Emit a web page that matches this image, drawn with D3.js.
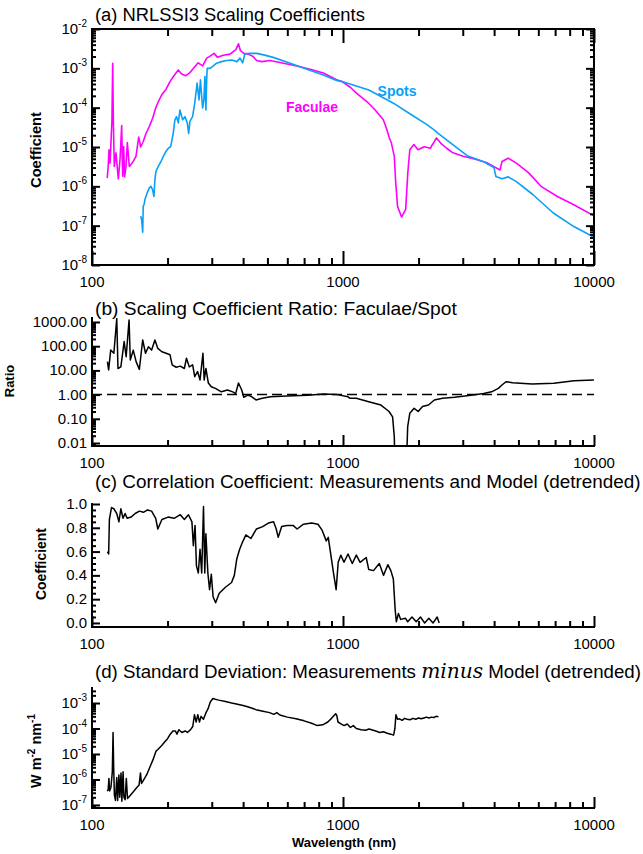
<!DOCTYPE html>
<html>
<head>
<meta charset="utf-8">
<script src="https://cdn.jsdelivr.net/npm/d3@7"></script>
<style>
  body { margin: 0; background: #fff; }
  svg { display: block; font-family: "Liberation Sans", Arial, sans-serif; }
</style>
</head>
<body>
<svg id="fig" width="643" height="854"></svg>
<script>
// ---------------- data ----------------
// wavelength axis (nm)
const waveTickLabels = [100, 1000, 10000];

// (a) scaling coefficients
const facWave = [
  115,116,116.9,118,120.1,120.9,121.6,122.7,124.6,127.3,
  129.3,131.3,132.5,133.7,134.9,136.6,138.3,140.8,145.3,149.7,
  153.5,156.3,160,164.1,169.1,174.4,179.8,183.7,189.4,197.3,
  204.5,212,220.7,227.5,236.6,245.6,256.8,264.7,275.9,286.4,
  295.4,306.5,316.3,333.4,354.4,374.3,383.4,390.3,402.4,418.6,
  438.8,452.7,474.6,512.2,579,654.7,740,835,943,992,
  1069,1131,1248,1343,1448,1496,1530,1559,1601,1619,
  1649,1712,1777,1812,1846,1916,1990,2107,2227,2358,
  2448,2589,2740,3010,3370,3772,4222,4301,4552,4907,
  5493,6149,7148,8309,10000
];
const facCoef = [
  1.62e-6,3.2e-6,8.5e-6,3.9e-6,4.9e-5,1.35e-3,4.9e-5,3.2e-6,7.1e-6,1.55e-6,
  4.8e-6,3.5e-5,1.8e-6,1.02e-5,1.74e-6,3.2e-6,1.29e-5,3.2e-6,4.1e-6,5.8e-6,
  1.78e-5,1.0e-5,1.38e-5,2.2e-5,3.3e-5,5.4e-5,1.02e-4,1.41e-4,2.1e-4,2.95e-4,
  4.6e-4,6.5e-4,9.1e-4,7.2e-4,6.5e-4,7.8e-4,1.1e-3,1.38e-3,1.15e-3,1.82e-3,
  2.04e-3,2.4e-3,1.9e-3,2.14e-3,2.3e-3,3.0e-3,4.2e-3,2.8e-3,2.4e-3,2.3e-3,
  2.0e-3,1.58e-3,1.48e-3,1.58e-3,1.35e-3,1.15e-3,9.5e-4,7.6e-4,5.1e-4,4.6e-4,
  3.3e-4,2.35e-4,1.41e-4,8.7e-5,4.9e-5,2.75e-5,1.7e-5,1.26e-5,5.8e-6,1.48e-6,
  3.1e-7,1.66e-7,2.6e-7,2.2e-6,8.5e-6,1.15e-5,8.5e-6,1.02e-5,9.3e-6,1.7e-5,
  1.26e-5,9.3e-6,7.1e-6,5.8e-6,4.9e-6,3.9e-6,2.6e-6,4.3e-6,5.2e-6,3.9e-6,
  2.2e-6,1.0e-6,5.5e-7,3.4e-7,1.78e-7
];
const spotWave = [
  156.3,157.7,159.2,160,161.5,162.5,165.9,169.1,171.8,174.4,
  176.5,178.1,179.8,183.7,187.7,192.4,197.3,201.4,205.8,210.6,
  213.9,217.2,220.7,224.1,229.7,234.6,239.7,242.7,245.6,251.6,
  256.8,262.3,267,270.4,275.8,279.1,281.7,284.4,286.4,287.7,
  295.4,304.2,313.7,328.3,344.1,360.6,378,388.8,398.2,406.7,
  424.6,452.7,482.7,527,616,718,835,943,992,1268,
  1588,1846,2145,2313,2401,2689,3124,3634,3993,4067,
  4301,4552,4907,5704,6884,8309,10000
];
const spotCoef = [
  1.74e-7,1.41e-7,6.8e-8,3.1e-7,3.6e-7,4.6e-7,6.8e-7,9.1e-7,1.0e-6,8.1e-7,
  5.5e-7,1.48e-6,2.4e-6,3.2e-6,4.1e-6,5.8e-6,7.8e-6,9.3e-6,1.02e-5,2.2e-5,
  4.9e-5,5.9e-5,4.1e-5,8.7e-5,4.9e-5,5.9e-5,4.1e-5,2.2e-5,4.5e-5,5.9e-5,
  1.35e-4,4.2e-4,1.58e-4,5.1e-4,9.8e-5,1.58e-4,6.2e-4,8.7e-5,5.1e-4,1.0e-3,
  1.0e-3,1.15e-3,1.35e-3,1.48e-3,1.58e-3,1.62e-3,1.48e-3,1.82e-3,1.38e-3,2.34e-3,
  2.4e-3,2.4e-3,2.2e-3,1.9e-3,1.35e-3,9.5e-4,6.8e-4,4.9e-4,4.6e-4,2.8e-4,
  1.3e-4,7.0e-5,3.8e-5,2.7e-5,2.2e-5,1.26e-5,6.0e-6,4.2e-6,3.0e-6,1.78e-6,
  1.55e-6,1.74e-6,1.32e-6,6.2e-7,2.1e-7,9.5e-8,5.1e-8
];
const coefTicks = [1e-8, 1e-7, 1e-6, 1e-5, 1e-4, 1e-3, 1e-2];

// (b) faculae / spot ratio
const ratioWave = [
  115.2,116.5,118.7,122.2,125.5,126.9,130.3,134.3,136.8,140.5,
  142.1,146,149.9,154.4,159.2,163.4,167.8,172.8,178.1,182.9,
  189.9,197.3,204.6,208.6,216.5,224.8,233.3,237.9,244.1,251.8,
  256.6,263.4,269.4,276.7,279.9,284.3,290.8,298.8,310.1,327.6,
  346.4,363.7,373.5,383.4,394.9,402.5,417.9,433.5,450.2,476.4,
  513.6,597.8,721.8,837.5,938.2,1047,1068,1130,1266,1416,
  1526,1576,1601,1619,1776,1810,1846,1920,1993,2074,
  2191,2311,2493,2782,3238,3634,3908,4158,4300,4460,
  4740,5670,6920,8330,9990
];
const ratioVal = [
  23,10.5,69,51,1400,12,14,155,37,1200,
  27,69,23,11,180,51,95,69,180,81,
  59,51,44,17,13.5,15,12,32,14,17,
  5.5,9,4,51,4,12,3,2.1,1.8,1.3,
  1.55,1.3,1.1,3,1.55,0.78,0.95,0.81,0.6,0.7,
  0.81,0.87,0.95,1.05,1.02,0.81,0.7,0.7,0.51,0.37,
  0.2,0.12,0.018,0.0001,0.0001,0.047,0.17,0.27,0.2,0.32,
  0.37,0.6,0.7,0.78,0.95,1.1,1.3,1.8,2.5,3.4,
  3.1,2.75,2.95,3.7,4.0
];
const ratioTicks = [0.01, 0.1, 1, 10, 100, 1000];
const ratioTickLabels = ["0.01", "0.10", "1.00", "10.00", "100.00", "1000.00"];
const ratioReference = 1;

// (c) correlation coefficient
const corrWave = [
  115.2,116.5,117.3,119.6,122.2,125.5,128,130.3,132.9,135.5,
  138,143.1,148.6,154.4,160.3,166.4,172.8,179.4,182.9,189.9,
  200.9,212.4,224.8,233.3,242.2,250.1,253.4,257.4,260.7,265.2,
  269.4,273.6,278.1,281.4,284.3,289.5,294,298.8,303.7,310.8,
  321.3,340.2,359.8,369,377.6,387.5,397.8,410.3,429.8,452,
  478.7,504.3,528.9,542,552,569.7,597.7,632.4,656.6,696,
  750,794.5,825.6,857.6,873.6,890.6,913.5,938.9,957,980,
  1009,1047,1089,1130,1170,1237,1266,1323,1395,1450,
  1509,1551,1587,1614,1631,1663,1697,1772,1810,1883,
  1958,2035,2115,2198,2284,2373,2416
];
const corrVal = [
  0.60,0.58,0.87,0.97,0.96,0.92,0.85,0.96,0.88,0.92,
  0.88,0.89,0.92,0.94,0.93,0.95,0.94,0.88,0.79,0.87,
  0.89,0.88,0.91,0.87,0.91,0.85,0.65,0.82,0.48,0.42,
  0.62,0.42,0.98,0.42,0.75,0.42,0.28,0.41,0.22,0.17,
  0.25,0.30,0.34,0.40,0.54,0.62,0.68,0.74,0.71,0.79,
  0.81,0.84,0.85,0.79,0.72,0.81,0.82,0.82,0.79,0.83,
  0.84,0.83,0.78,0.69,0.72,0.60,0.44,0.28,0.51,0.57,
  0.51,0.58,0.50,0.57,0.51,0.55,0.45,0.44,0.50,0.40,
  0.49,0.44,0.37,0.11,0.01,0.08,0.03,0.04,0.01,0.05,
  0.01,0.05,0.00,0.04,0.00,0.05,0.00
];
const corrTicks = [0.0, 0.2, 0.4, 0.6, 0.8, 1.0];

// (d) standard deviation of measurements minus model
const sdWave = [
  115,116,116.8,117.5,119,120.5,121.3,122,122.8,124,
  125.5,126.5,128,129,130.5,131.5,133,134,135.5,137,
  138.5,140,145,150,154,156,157.5,160,165,170,
  175,180,183,190,195,200,205,210,215,218,
  222,228,235,240,247,252,256,260,264,268,
  272,278,284,290,296,303,310,320,340,360,
  380,400,420,450,480,510,530,545,560,600,
  650,700,750,790,830,870,900,935,945,955,
  985,1010,1040,1070,1100,1130,1180,1230,1270,1300,
  1350,1400,1450,1500,1550,1590,1610,1625,1650,1680,
  1720,1760,1800,1850,1900,1950,2000,2050,2100,2150,
  2200,2250,2300,2350,2400
];
const sdVal = [
  3.5e-7,4e-7,1.1e-6,3.5e-7,5e-7,2e-6,7e-5,3e-6,2.5e-7,1.5e-7,
  1.2e-6,1.5e-7,1.5e-6,2e-7,1.8e-6,1.4e-7,2e-6,2e-7,1.6e-7,1.1e-6,
  1.8e-7,2e-7,3e-7,4.5e-7,6e-7,1.8e-6,7e-7,9e-7,1.5e-6,3e-6,
  6e-6,1.3e-5,1.5e-5,2.2e-5,3e-5,4e-5,6e-5,8e-5,8e-5,6e-5,
  9e-5,7e-5,8e-5,7e-5,9e-5,1.2e-4,3.5e-4,1.8e-4,3.5e-4,1.8e-4,
  3e-4,2.3e-4,4e-4,6e-4,1.1e-3,1.5e-3,1.4e-3,1.3e-3,1.15e-3,1e-3,
  9e-4,8e-4,7e-4,5.5e-4,4.8e-4,4.2e-4,3.6e-4,4.2e-4,3.4e-4,2.8e-4,
  2.4e-4,2e-4,1.6e-4,1.3e-4,1.4e-4,1.8e-4,2.5e-4,3.8e-4,3.2e-4,1.8e-4,
  1.5e-4,1.3e-4,1.5e-4,1.1e-4,1.3e-4,1e-4,9e-5,8.5e-5,9.5e-5,9e-5,
  8e-5,7e-5,7.5e-5,6.5e-5,6e-5,5.5e-5,1e-4,3.5e-4,2.3e-4,2.4e-4,
  2.1e-4,2.5e-4,2.3e-4,2.2e-4,2.5e-4,2.3e-4,2.6e-4,2.4e-4,2.6e-4,2.8e-4,
  2.6e-4,2.8e-4,2.7e-4,3.0e-4,2.9e-4
];
const sdTicks = [1e-7, 1e-6, 1e-5, 1e-4, 1e-3];

// ---------------- drawing ----------------
const FAC_COLOR = "#ff00ff";
const SPOT_COLOR = "#0aa0f5";
const fig = d3.select("#fig");
const X_LEFT = 92, X_RIGHT = 594;
const x = d3.scaleLog().domain([100, 10000]).range([X_LEFT, X_RIGHT]);

// 1..9 x 10^n tick values inside a log domain
function logTickValues(lo, hi) {
  const out = [];
  for (let e = Math.floor(Math.log10(lo)); e <= Math.ceil(Math.log10(hi)); e++) {
    for (let k = 1; k <= 9; k++) {
      const v = k * Math.pow(10, e);
      if (v >= lo * 0.9999 && v <= hi * 1.0001) out.push({ v, major: k === 1 });
    }
  }
  return out;
}
const xTicks = logTickValues(100, 10000);
const xMajor = xTicks.filter(t => t.major).map(t => t.v);
const xMinor = xTicks.filter(t => !t.major).map(t => t.v);

function styleTicks(sel) {
  sel.select(".domain").remove();
  sel.selectAll("line").attr("stroke", "#000").attr("stroke-width", 2);
}

function fitWidth(sel, target) {
  const len = sel.node().getComputedTextLength();
  const fs = parseFloat(sel.attr("font-size"));
  sel.attr("font-size", (fs * target / len).toFixed(2));
}

function addTitle(g, tx, ty, parts, width) {
  const t = g.append("text").attr("x", tx).attr("y", ty).attr("font-size", 16).attr("fill", "#000");
  parts.forEach(p => {
    const s = t.append("tspan").text(p.text);
    if (p.math) s.attr("font-family", "'DejaVu Serif', serif").attr("font-style", "italic").attr("font-size", "1.08em");
  });
  fitWidth(t, width);
  return t;
}

function addYTitle(g, cx, cy, build, width) {
  const t = g.append("text")
    .attr("transform", `translate(${cx},${cy}) rotate(-90)`)
    .attr("text-anchor", "middle")
    .attr("font-size", 13).attr("font-weight", "bold").attr("fill", "#000");
  build(t);
  if (width) fitWidth(t, width);
  return t;
}

function expLabel(g, xpos, ypos, v) {
  const e = Math.round(Math.log10(v));
  const t = g.append("text").attr("x", xpos).attr("y", ypos).attr("text-anchor", "end")
    .attr("font-size", 15).attr("fill", "#000");
  t.append("tspan").text("10");
  t.append("tspan").attr("font-size", 10).attr("dy", -7).text(String(e));
}

function drawPanel(p) {
  const g = fig.append("g");
  const clipId = "clip-" + p.name;
  fig.append("clipPath").attr("id", clipId).append("rect")
    .attr("x", X_LEFT).attr("y", p.top).attr("width", X_RIGHT - X_LEFT).attr("height", p.bottom - p.top);

  // data lines
  const plot = g.append("g").attr("clip-path", `url(#${clipId})`);
  if (p.refLine !== undefined) {
    plot.append("line")
      .attr("x1", X_LEFT).attr("x2", X_RIGHT)
      .attr("y1", p.y(p.refLine)).attr("y2", p.y(p.refLine))
      .attr("stroke", "#000").attr("stroke-width", 1.5).attr("stroke-dasharray", "10,5");
  }
  p.series.forEach(s => {
    const line = d3.line().x(d => x(d[0])).y(d => p.y(d[1]));
    plot.append("path").datum(d3.zip(s.wave, s.val))
      .attr("d", line).attr("fill", "none")
      .attr("stroke", s.color).attr("stroke-width", s.width || 1.5)
      .attr("stroke-linejoin", "round");
  });

  // x ticks (bottom, and top when boxed)
  const bigX = p.boxed ? 14 : 11, smallX = p.boxed ? 7 : 6;
  g.append("g").attr("transform", `translate(0,${p.bottom})`)
    .call(d3.axisTop(x).tickValues(xMinor).tickSize(smallX).tickFormat("")).call(styleTicks);
  g.append("g").attr("transform", `translate(0,${p.bottom})`)
    .call(d3.axisTop(x).tickValues(xMajor).tickSize(bigX).tickFormat("")).call(styleTicks);
  if (p.boxed) {
    g.append("g").attr("transform", `translate(0,${p.top})`)
      .call(d3.axisBottom(x).tickValues(xMinor).tickSize(smallX).tickFormat("")).call(styleTicks);
    g.append("g").attr("transform", `translate(0,${p.top})`)
      .call(d3.axisBottom(x).tickValues(xMajor).tickSize(bigX).tickFormat("")).call(styleTicks);
  }

  // y ticks (left, and right when boxed)
  const yMajor = p.yMajor, yMinor = p.yMinor;
  g.append("g").attr("transform", `translate(${X_LEFT},0)`)
    .call(d3.axisRight(p.y).tickValues(yMinor).tickSize(4).tickFormat("")).call(styleTicks);
  g.append("g").attr("transform", `translate(${X_LEFT},0)`)
    .call(d3.axisRight(p.y).tickValues(yMajor).tickSize(8).tickFormat("")).call(styleTicks);
  if (p.boxed) {
    g.append("g").attr("transform", `translate(${X_RIGHT},0)`)
      .call(d3.axisLeft(p.y).tickValues(yMinor).tickSize(4).tickFormat("")).call(styleTicks);
    g.append("g").attr("transform", `translate(${X_RIGHT},0)`)
      .call(d3.axisLeft(p.y).tickValues(yMajor).tickSize(8).tickFormat("")).call(styleTicks);
  }

  // axis lines
  const frame = g.append("g").attr("stroke", "#000").attr("stroke-width", 2).attr("fill", "none");
  if (p.boxed) {
    frame.append("rect").attr("x", X_LEFT).attr("y", p.top)
      .attr("width", X_RIGHT - X_LEFT).attr("height", p.bottom - p.top);
  } else {
    frame.append("path").attr("stroke-linecap", "square")
      .attr("d", `M${X_LEFT},${p.top}V${p.bottom}H${X_RIGHT}`);
  }

  // x tick labels
  g.selectAll(null).data(waveTickLabels).join("text")
    .attr("x", d => x(d)).attr("y", p.bottom + 22)
    .attr("text-anchor", "middle").attr("font-size", 15).attr("fill", "#000")
    .text(d => d);

  // y tick labels
  p.yLabels.forEach((v, i) => {
    const yy = p.y(v) + 5;
    if (p.expLabels) expLabel(g, 87, yy, v);
    else g.append("text").attr("x", 87).attr("y", yy).attr("text-anchor", "end")
      .attr("font-size", 15).attr("fill", "#000").text(p.yLabelText[i]);
  });
  return g;
}

// ---- panel (a)
const yA = d3.scaleLog().domain([1e-8, 1e-2]).range([265, 29]);
const aTicks = logTickValues(1e-8, 1e-2);
const gA = drawPanel({
  name: "a", top: 29, bottom: 265, y: yA, boxed: true,
  yMajor: aTicks.filter(t => t.major).map(t => t.v),
  yMinor: aTicks.filter(t => !t.major).map(t => t.v),
  yLabels: coefTicks, expLabels: true,
  series: [
    { wave: facWave, val: facCoef, color: FAC_COLOR, width: 1.6 },
    { wave: spotWave, val: spotCoef, color: SPOT_COLOR, width: 1.6 }
  ]
});
addTitle(gA, 95, 21, [{ text: "(a) NRLSSI3 Scaling Coefficients" }], 270);
addYTitle(gA, 41, 150, t => t.text("Coefficient"), 76);
gA.append("text").attr("x", 312).attr("y", 112).attr("text-anchor", "middle")
  .attr("font-size", 14).attr("font-weight", "bold").attr("fill", FAC_COLOR).text("Faculae");
gA.append("text").attr("x", 397).attr("y", 96).attr("text-anchor", "middle")
  .attr("font-size", 14).attr("font-weight", "bold").attr("fill", SPOT_COLOR).text("Spots");

// ---- panel (b)
const yB = d3.scaleLog().domain([Math.pow(10, -2.124), Math.pow(10, 3.165)]).range([446, 318]);
const bTicks = logTickValues(Math.pow(10, -2.124), Math.pow(10, 3.165));
const gB = drawPanel({
  name: "b", top: 318, bottom: 446, y: yB, boxed: false,
  yMajor: bTicks.filter(t => t.major).map(t => t.v),
  yMinor: bTicks.filter(t => !t.major).map(t => t.v),
  yLabels: ratioTicks, yLabelText: ratioTickLabels,
  refLine: ratioReference,
  series: [{ wave: ratioWave, val: ratioVal, color: "#000", width: 1.5 }]
});
addTitle(gB, 95, 315, [{ text: "(b) Scaling Coefficient Ratio: Faculae/Spot" }], 362);
addYTitle(gB, 14, 381, t => t.text("Ratio"), null);

// ---- panel (c)
const yC = d3.scaleLinear().domain([-0.034, 1.0]).range([627, 504]);
const cMinor = d3.range(0, 21).map(i => i * 0.05).filter(v => Math.abs(v * 5 - Math.round(v * 5)) > 1e-6);
const gC = drawPanel({
  name: "c", top: 504, bottom: 627, y: yC, boxed: false,
  yMajor: corrTicks, yMinor: cMinor,
  yLabels: corrTicks, yLabelText: corrTicks.map(v => v.toFixed(1)),
  series: [{ wave: corrWave, val: corrVal, color: "#000", width: 1.5 }]
});
addTitle(gC, 95, 488, [{ text: "(c) Correlation Coefficient: Measurements and Model (detrended)" }], 546);
addYTitle(gC, 46, 564, t => t.text("Coefficient"), 72);

// ---- panel (d)
const yD = d3.scaleLog().domain([Math.pow(10, -7.12), Math.pow(10, -2.41)]).range([808, 688]);
const dTicks = logTickValues(Math.pow(10, -7.12), Math.pow(10, -2.41));
const gD = drawPanel({
  name: "d", top: 688, bottom: 808, y: yD, boxed: false,
  yMajor: dTicks.filter(t => t.major).map(t => t.v),
  yMinor: dTicks.filter(t => !t.major).map(t => t.v),
  yLabels: sdTicks, expLabels: true,
  series: [{ wave: sdWave, val: sdVal, color: "#000", width: 1.5 }]
});
addTitle(gD, 95, 678, [
  { text: "(d) Standard Deviation: Measurements " },
  { text: "minus", math: true },
  { text: " Model (detrended)" }
], 546);
addYTitle(gD, 41, 751, t => {
  t.append("tspan").text("W m");
  t.append("tspan").attr("font-size", 10).attr("dy", -6).text("-2");
  t.append("tspan").attr("dy", 6).text(" nm");
  t.append("tspan").attr("font-size", 10).attr("dy", -6).text("-1");
}, 76);

fig.append("text").attr("x", 344).attr("y", 847).attr("text-anchor", "middle")
  .attr("font-size", 13).attr("font-weight", "bold").attr("fill", "#000").text("Wavelength (nm)");
</script>
</body>
</html>
